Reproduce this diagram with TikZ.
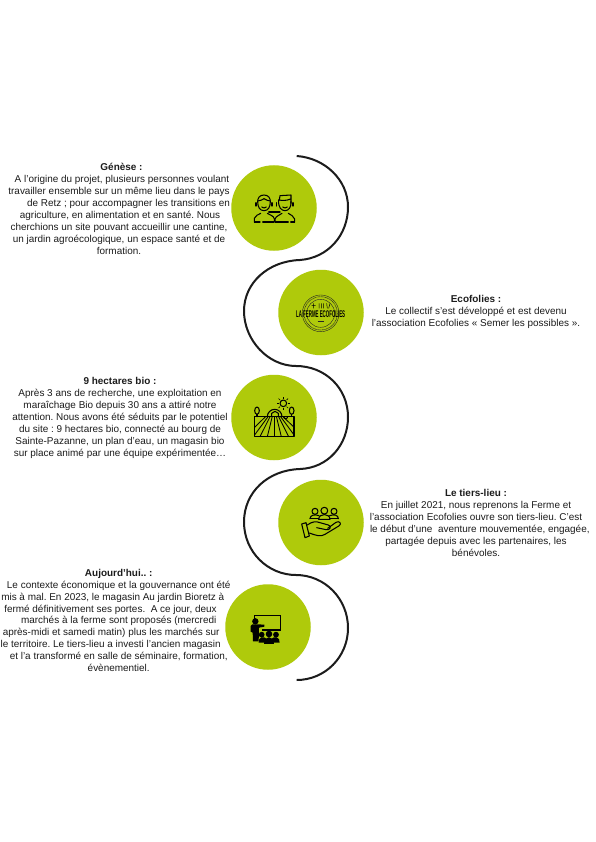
\documentclass[tikz,border=0pt]{standalone}
\usepackage{graphicx}
\usepackage{fontspec}
\setmainfont{Liberation Sans}
\definecolor{lime}{HTML}{AFCA0B}
\definecolor{ink}{HTML}{1C1C1C}
\newcommand{\tailgap}[1]{\rule{#1}{0pt}}
\tikzset{
  disc/.style={circle,fill=lime,draw=none,minimum size=85.5pt,inner sep=0pt},
  para/.style={align=center,text=ink,inner sep=0pt,font=\fontsize{9.95}{11.95}\selectfont\frenchspacing},
  snake/.style={line width=2pt,draw=ink},
  icon/.style={line width=1.05pt,draw=black,line cap=round,line join=round},
  iconthin/.style={line width=0.4pt,draw=black!85},
  zoomed/.style={x=0.33333pt,y=-0.33333pt}
}
\begin{document}
\begin{tikzpicture}[x=1pt,y=-1pt]
\useasboundingbox (0,0) rectangle (595,842);
\fill[white] (0,0) rectangle (595,842);
% ribbon
\draw[snake] (296.7,156) .. controls (325,158) and (348,180) .. (348,207)
  .. controls (348,235) and (328,258) .. (300,260)
  .. controls (268,261) and (244,283) .. (244,311)
  .. controls (244,340) and (268,366) .. (296,366)
  .. controls (325,366) and (348,388) .. (348,417)
  .. controls (348,445) and (328,468) .. (300,469)
  .. controls (268,470) and (244,492) .. (244,522)
  .. controls (244,552) and (268,575) .. (296,575)
  .. controls (325,575) and (348,599) .. (348,628)
  .. controls (348,657) and (325,680) .. (296.7,680);
% discs
\node[disc] (d1) at (274,208) {};
\node[disc] (d2) at (321,312.5) {};
\node[disc] (d3) at (274,417.5) {};
\node[disc] (d4) at (321,522.5) {};
\node[disc] (d5) at (268,627) {};
% texts
\node[para] (t1) at (119,209) {\hspace*{5pt}\textbf{Génèse :}\\
\hspace*{6pt}A l’origine du projet, plusieurs personnes voulant\\
travailler ensemble sur un même lieu dans le pays\\
\hspace*{19pt}de Retz ; pour accompagner les transitions en\\
\hspace*{2pt}agriculture, en alimentation et en santé. Nous\\
cherchions un site pouvant accueillir une cantine,\\
un jardin agroécologique, un espace santé et de\\
formation.};
\node[para] (t2) at (476,312) {\textbf{Ecofolies :}\\
Le collectif s’est développé et est devenu\\
l’association Ecofolies « Semer les possibles ».};
\node[para] (t3) at (120,418) {\textbf{9 hectares bio :}\\
Après 3 ans de recherche, une exploitation en\\
maraîchage Bio depuis 30 ans a attiré notre\\
attention. Nous avons été séduits par le potentiel\\
du site : 9 hectares bio, connecté au bourg de\\
Sainte-Pazanne, un plan d’eau, un magasin bio\\
sur place animé par une équipe expérimentée…};
\node[para] (t4) at (476,523.3) {\textbf{Le tiers-lieu :}\\
En juillet 2021, nous reprenons la Ferme et\\
l’association Ecofolies ouvre son tiers-lieu. C’est\\
\hspace*{7.6pt}le début d’une\ \ aventure mouvementée, engagée,\\
partagée depuis avec les partenaires, les\\
bénévoles.};
\node[para] (t5) at (118.7,620.4) {\textbf{Aujourd’hui.. :}\\
Le contexte économique et la gouvernance ont été\\
mis à mal. En 2023, le magasin Au jardin Bioretz à\tailgap{12pt}\\
fermé définitivement ses portes.\ \ A ce jour, deux\tailgap{16.5pt}\\
marchés à la ferme sont proposés (mercredi\\
après-midi et samedi matin) plus les marchés sur\tailgap{15pt}\\
le territoire. Le tiers-lieu a investi l’ancien magasin\tailgap{16pt}\\
et l’a transformé en salle de séminaire, formation,\\
évènementiel.};
% icon 1: two people
\begin{scope}[shift={(220,150)},zoomed]
 \draw[icon] (132,135) .. controls (118,135) and (113,145) .. (113,155)
   .. controls (113,172) and (120,182) .. (132,182)
   .. controls (144,182) and (151,172) .. (151,155)
   .. controls (151,145) and (146,135) .. (132,135);
 \draw[icon] (113,153) .. controls (122,153) and (128,148) .. (132,146) .. controls (138,150) and (144,152) .. (151,153);
 \draw[icon] (108,158) -- (108,168) (156,158) -- (156,168);
 \draw[icon] (125,171) .. controls (129,175) and (135,175) .. (139,171);
 \draw[icon] (103,214) -- (103,205) .. controls (105,196) and (115,195) .. (122,190);
 \draw[icon] (142,190) .. controls (150,195) and (162,198) .. (163,207) -- (163,214);
 \draw[icon] (103,216) -- (120,216) (128,216) -- (162,216);
 \draw[icon] (146,186) -- (180,186);
 \draw[icon] (178,150) -- (180,137) -- (213,135) -- (213,160);
 \draw[icon] (176,150) .. controls (174,172) and (184,182) .. (195,182)
   .. controls (206,182) and (214,172) .. (213,155);
 \draw[icon] (176,150) .. controls (188,152) and (200,152) .. (212,147);
 \draw[icon] (170,158) -- (170,168) (219,158) -- (219,168);
 \draw[icon] (188,171) .. controls (192,175) and (198,175) .. (202,171);
 \draw[icon] (165,214) -- (165,207) .. controls (168,198) and (180,195) .. (186,190);
 \draw[icon] (205,190) .. controls (212,195) and (222,198) .. (224,207) -- (224,214);
 \draw[icon] (165,216) -- (205,216) (212,216) -- (224,216);
\end{scope}
% icon 2: logo
\begin{scope}[shift={(270,260)},zoomed]
 \draw[iconthin] (152,160) circle[radius=55pt/3];
 \draw[iconthin,dash pattern=on 0.8pt off 0.6pt,line width=0.6pt] (152,160) circle[radius=50pt/3];
 \draw[iconthin] (152,160) circle[radius=42pt/3];
 \draw[line width=0.5pt,black] (131,130) -- (131,145) (147,130) -- (147,145) (154,130) -- (154,145) (160,130) -- (160,145) (170,130) -- (172,145) (180,130) -- (176,145) (125,137) -- (137,137);
 \draw[iconthin] (143,184) -- (162,184);
 \node[inner sep=0pt,text=black] (logo) at (152,162) {\resizebox{49pt}{6.8pt}{\textbf{LA FERME ECOFOLIES}}};
\end{scope}
% icon 3: field
\begin{scope}[shift={(225,370)},zoomed]
 \begin{scope}
  \clip (88,140) rectangle (207,200);
  \foreach \xb in {60,85,105,127,148,169,191,211,236}
    \draw[line width=0.85pt,black] ({148+(\xb-148)*0.3},140) -- (\xb,200);
 \end{scope}
 \draw[icon] (88,140) rectangle (207,200);
 \draw[icon] (127,140) arc[start angle=180,end angle=0,radius=7.33pt];
 \draw[icon] (96,122) ellipse (7 and 11);
 \draw[icon] (96,133) -- (96,140);
 \draw[icon] (200,122) ellipse (7 and 11);
 \draw[icon] (200,133) -- (200,140);
 \draw[icon] (140,140) -- (140,130) -- (150,124) -- (160,130) -- (160,140);
 \draw[icon] (176,140) arc[start angle=180,end angle=0,radius=6];
 \draw[icon] (175,100) circle[radius=3.3pt];
 \foreach \a in {0,45,...,315}
   \draw[line width=0.7pt,black] (175,100) ++(\a:14) -- ++(\a:6);
\end{scope}
% icon 4: hand and group
\begin{scope}[shift={(270,475)},zoomed]
 \draw[icon] (135,109) circle[radius=3pt];
 \draw[icon] (163,107) circle[radius=3.4pt];
 \draw[icon] (192,109) circle[radius=3pt];
 \draw[icon] (120,131) .. controls (120,120) and (135,117) .. (147,122);
 \draw[icon] (146,133) .. controls (146,114) and (180,114) .. (180,133) -- cycle;
 \draw[icon] (179,122) .. controls (192,117) and (205,120) .. (205,131);
 \draw[icon] (120,131) -- (146,131) (180,131) -- (205,131);
 \draw[icon] (95,147) -- (108,143) -- (118,183) -- (105,188) -- cycle;
 \draw[icon] (112,150) .. controls (125,140) and (138,138) .. (150,143) -- (175,150)
   .. controls (186,153) and (180,167) .. (168,164) -- (140,158);
 \draw[icon] (173,160) -- (198,142) .. controls (208,136) and (216,146) .. (208,152)
   -- (165,178) .. controls (152,186) and (140,182) .. (118,174);
\end{scope}
% icon 5: teacher
\begin{scope}[shift={(225,580)},zoomed]
 \draw[line width=1.4pt,black,line join=miter] (88,116) -- (88,107) -- (167,107) -- (167,150) -- (112,150);
 \fill[black] (91,124) circle[radius=3.2pt];
 \fill[black] (82,133) -- (100,133) -- (118,134) -- (118,140) -- (102,143) -- (101,184) -- (84,184) -- (83,158) -- (77,155) -- (77,138) -- cycle;
 \fill[black] (110,164) circle[radius=2.9pt];
 \fill[black] (132,162) circle[radius=3.3pt];
 \fill[black] (153,164) circle[radius=2.9pt];
 \fill[black] (101,188) .. controls (99,170) and (118,168) .. (124,176) -- (124,188) -- cycle;
 \fill[black] (117,192) .. controls (117,165) and (147,165) .. (147,192) -- cycle;
 \fill[black] (140,188) -- (140,176) .. controls (146,168) and (166,170) .. (164,188) -- cycle;
\end{scope}
\end{tikzpicture}
\end{document}
